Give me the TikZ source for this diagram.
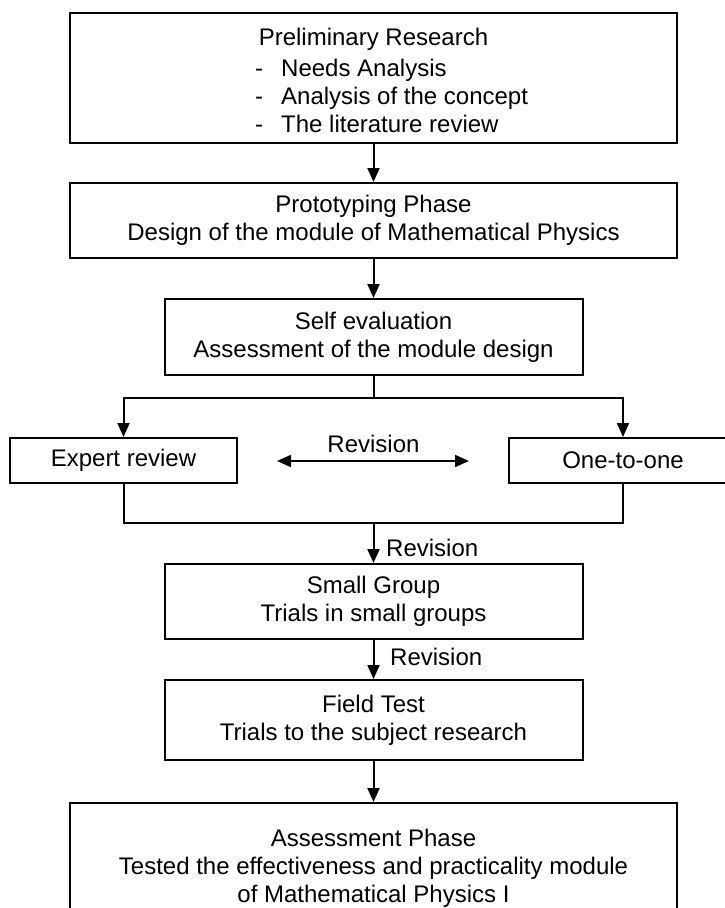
\documentclass[tikz,border=0pt]{standalone}
\usepackage{fontspec}
\setmainfont{Liberation Sans}
\usetikzlibrary{arrows.meta}
\begin{document}
\begin{tikzpicture}[x=1pt,y=-1pt,
  every node/.style={font=\fontsize{24}{28}\selectfont, inner sep=0pt},
  box/.style={draw, line width=2pt, align=center},
  arr/.style={line width=2pt, -{Triangle[length=14pt,width=12pt]}},
  dbl/.style={line width=2pt, {Triangle[length=14pt,width=12pt]}-{Triangle[length=14pt,width=12pt]}},
  link/.style={line width=2pt},
  lbl/.style={anchor=west}]
\useasboundingbox (0,0) rectangle (725,908);
\clip (0,0) rectangle (725,908);
\fill[white] (0,0) rectangle (725,908);
% boxes
\node[box, minimum width=607pt, minimum height=130pt] (pre) at (373.5,78) {};
\node (preT) at (373.5,39) {Preliminary Research};
\node[align=left, anchor=west] (preL) at (255,95.5) {\makebox[26pt][l]{-}Needs Analysis\\\makebox[26pt][l]{-}Analysis of the concept\\\makebox[26pt][l]{-}The literature review};
\node[box, minimum width=607pt, minimum height=75pt] (proto) at (373.5,220.5) {Prototyping Phase\\Design of the module of Mathematical Physics};
\node[box, minimum width=418pt, minimum height=76pt] (self) at (373.5,337) {Self evaluation\\Assessment of the module design};
\node[box, minimum width=227pt, minimum height=45pt] (expert) at (123.5,460.5) {Expert review};
\node[box, minimum width=229pt, minimum height=45pt] (one) at (623,460.5) {One-to-one};
\node[box, minimum width=418pt, minimum height=75pt] (small) at (373.5,601.5) {Small Group\\Trials in small groups};
\node[box, minimum width=418pt, minimum height=80pt] (field) at (373.5,720) {Field Test\\Trials to the subject research};
\node[box, minimum width=607pt, minimum height=130pt] (assess) at (373.5,868) {Assessment Phase\\Tested the effectiveness and practicality module\\of Mathematical Physics I};
% connectors
\draw[arr] (pre.south) -- (proto.north);
\draw[arr] (proto.south) -- (self.north);
\coordinate (split) at (373.5,398);
\draw[link] (self.south) -- (split);
\draw[arr] (split) -| (expert.north);
\draw[arr] (split) -| (one.north);
\coordinate (revL) at (277,461);
\coordinate (revR) at (469,461);
\draw[dbl] (revL) -- (revR);
\node (rev1) at (373.5,444) {Revision};
\coordinate (merge) at (373.5,523);
\draw[link] (expert.south) |- (merge);
\draw[link] (one.south) |- (merge);
\draw[arr] (merge) -- (small.north);
\node[lbl] (rev2) at (386,548) {Revision};
\draw[arr] (small.south) -- (field.north);
\node[lbl] (rev3) at (390,657) {Revision};
\draw[arr] (field.south) -- (assess.north);
\end{tikzpicture}
\end{document}
